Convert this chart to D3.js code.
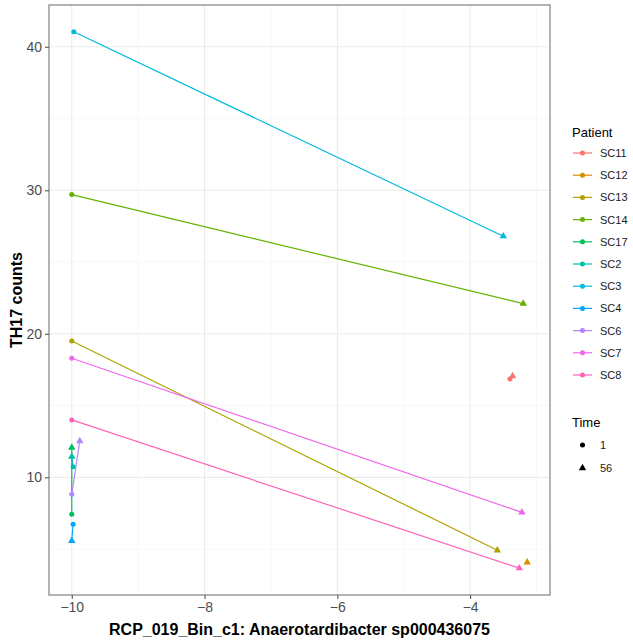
<!DOCTYPE html>
<html>
<head>
<meta charset="utf-8">
<script src="https://cdn.jsdelivr.net/npm/d3@7"></script>
<style>
  body { margin: 0; background: #fff; }
  svg { font-family: "Liberation Sans", Arial, sans-serif; }
</style>
</head>
<body>
<div id="chart"></div>
<script>
// Patients and their ggplot hue colours
const patients = ["SC11", "SC12", "SC13", "SC14", "SC17", "SC2", "SC3", "SC4", "SC6", "SC7", "SC8"];
const colors = ["#F8766D", "#DB8E00", "#AEA200", "#64B200", "#00BD5C", "#00C1A7",
                "#00BADE", "#00A6FF", "#B385FF", "#EF67EB", "#FF63B6"];
const timeLevels = ["1", "56"];

// Time 1 (circle) values
const x1 = [-3.40, null, -10.0, -10.0, -10.0, -9.98, -9.97, -9.98, -10.0, -10.0, -10.0];
const y1 = [16.85, null, 19.5, 29.7, 7.43, 10.74, 41.04, 6.73, 8.82, 18.3, 14.0];
// Time 56 (triangle) values
const x56 = [-3.36, -3.14, -3.59, -3.20, -10.0, -10.0, -3.50, -10.0, -9.88, -3.22, -3.26];
const y56 = [17.05, 4.08, 4.92, 22.1, 12.07, 11.44, 26.8, 5.57, 12.53, 7.56, 3.67];

const xTicks = [-10, -8, -6, -4];
const yTicks = [10, 20, 30, 40];
const xTitle = "RCP_019_Bin_c1: Anaerotardibacter sp000436075";
const yTitle = "TH17 counts";

const width = 633, height = 644;
const panel = { left: 49, right: 550, top: 5, bottom: 595 };

// build point records
const points = [];
patients.forEach((p, i) => {
  if (x1[i] != null) points.push({ patient: p, time: "1", x: x1[i], y: y1[i], color: colors[i] });
  if (x56[i] != null) points.push({ patient: p, time: "56", x: x56[i], y: y56[i], color: colors[i] });
});

function expand(ext) {
  const pad = (ext[1] - ext[0]) * 0.05;
  return [ext[0] - pad, ext[1] + pad];
}

const x = d3.scaleLinear()
  .domain(expand(d3.extent(points, d => d.x)))
  .range([panel.left, panel.right]);
const y = d3.scaleLinear()
  .domain(expand(d3.extent(points, d => d.y)))
  .range([panel.bottom, panel.top]);

const svg = d3.select("#chart").append("svg")
  .attr("width", width)
  .attr("height", height);

// --- grid ---
const grid = svg.append("g");
const xMinor = d3.range(-11, -2).filter(v => v % 2 !== 0 && v > x.domain()[0] && v < x.domain()[1]);
const yMinor = [5, 15, 25, 35];
grid.selectAll(".xminor").data(xMinor).enter().append("line")
  .attr("x1", d => x(d)).attr("x2", d => x(d))
  .attr("y1", panel.top).attr("y2", panel.bottom)
  .attr("stroke", "#f3f3f3").attr("stroke-width", 0.6);
grid.selectAll(".yminor").data(yMinor).enter().append("line")
  .attr("y1", d => y(d)).attr("y2", d => y(d))
  .attr("x1", panel.left).attr("x2", panel.right)
  .attr("stroke", "#f3f3f3").attr("stroke-width", 0.6);
grid.selectAll(".xmajor").data(xTicks).enter().append("line")
  .attr("x1", d => x(d)).attr("x2", d => x(d))
  .attr("y1", panel.top).attr("y2", panel.bottom)
  .attr("stroke", "#ebebeb").attr("stroke-width", 1.1);
grid.selectAll(".ymajor").data(yTicks).enter().append("line")
  .attr("y1", d => y(d)).attr("y2", d => y(d))
  .attr("x1", panel.left).attr("x2", panel.right)
  .attr("stroke", "#ebebeb").attr("stroke-width", 1.1);

// --- lines ---
const line = d3.line().x(d => x(d.x)).y(d => y(d.y));
patients.forEach((p, i) => {
  const pts = points.filter(d => d.patient === p);
  if (pts.length < 2) return;
  svg.append("path")
    .datum(pts)
    .attr("fill", "none")
    .attr("stroke", colors[i])
    .attr("stroke-width", 1.2)
    .attr("d", line);
});

// --- points ---
const circleSym = d3.symbol().type(d3.symbolCircle).size(20);
const triSym = d3.symbol().type(d3.symbolTriangle).size(24);
svg.selectAll(".pt").data(points).enter().append("path")
  .attr("transform", d => `translate(${x(d.x)},${y(d.y)})`)
  .attr("d", d => d.time === "1" ? circleSym() : triSym())
  .attr("fill", d => d.color);

// --- panel border ---
svg.append("rect")
  .attr("x", panel.left).attr("y", panel.top)
  .attr("width", panel.right - panel.left)
  .attr("height", panel.bottom - panel.top)
  .attr("fill", "none")
  .attr("stroke", "#8c8c8c")
  .attr("stroke-width", 1.3);

// --- axes ---
const xAxis = svg.append("g")
  .attr("transform", `translate(0,${panel.bottom})`)
  .call(d3.axisBottom(x).tickValues(xTicks).tickSize(4).tickPadding(3)
    .tickFormat(d => d3.format("d")(d).replace("-", "\u2212")));
const yAxis = svg.append("g")
  .attr("transform", `translate(${panel.left},0)`)
  .call(d3.axisLeft(y).tickValues(yTicks).tickSize(4).tickPadding(3));
[xAxis, yAxis].forEach(a => {
  a.select(".domain").remove();
  a.selectAll(".tick line").attr("stroke", "#555").attr("stroke-width", 1.1);
  a.selectAll("text")
    .attr("fill", "#4d4d4d")
    .style("font-size", "14px")
    .style("font-family", "\"Liberation Sans\", Arial, sans-serif");
});

// --- axis titles ---
svg.append("text")
  .attr("x", (panel.left + panel.right) / 2)
  .attr("y", 635)
  .attr("text-anchor", "middle")
  .style("font-size", "16px")
  .style("font-weight", "bold")
  .text(xTitle);
svg.append("text")
  .attr("transform", `translate(22,${(panel.top + panel.bottom) / 2}) rotate(-90)`)
  .attr("text-anchor", "middle")
  .style("font-size", "16px")
  .style("font-weight", "bold")
  .text(yTitle);

// --- legend: Patient ---
const leg = svg.append("g").attr("transform", "translate(572,0)");
leg.append("text").attr("x", 0).attr("y", 137)
  .style("font-size", "13px").text("Patient");
const legY = d3.scalePoint().domain(patients).range([153, 375]);
patients.forEach((p, i) => {
  const g = leg.append("g").attr("transform", `translate(0,${legY(p)})`);
  g.append("line").attr("x1", 1).attr("x2", 20)
    .attr("stroke", colors[i]).attr("stroke-width", 1.2);
  g.append("path").attr("transform", "translate(10.5,0)")
    .attr("d", circleSym()).attr("fill", colors[i]);
  g.append("text").attr("x", 28).attr("y", 4)
    .style("font-size", "11px").attr("fill", "#1a1a1a").text(p);
});

// --- legend: Time ---
leg.append("text").attr("x", 0).attr("y", 427)
  .style("font-size", "13px").text("Time");
const timeY = d3.scalePoint().domain(timeLevels).range([445, 468]);
timeLevels.forEach(t => {
  const g = leg.append("g").attr("transform", `translate(0,${timeY(t)})`);
  g.append("path").attr("transform", "translate(10.5,0)")
    .attr("d", t === "1" ? circleSym() : triSym()).attr("fill", "#000");
  g.append("text").attr("x", 28).attr("y", 4)
    .style("font-size", "11px").attr("fill", "#1a1a1a").text(t);
});
</script>
</body>
</html>
